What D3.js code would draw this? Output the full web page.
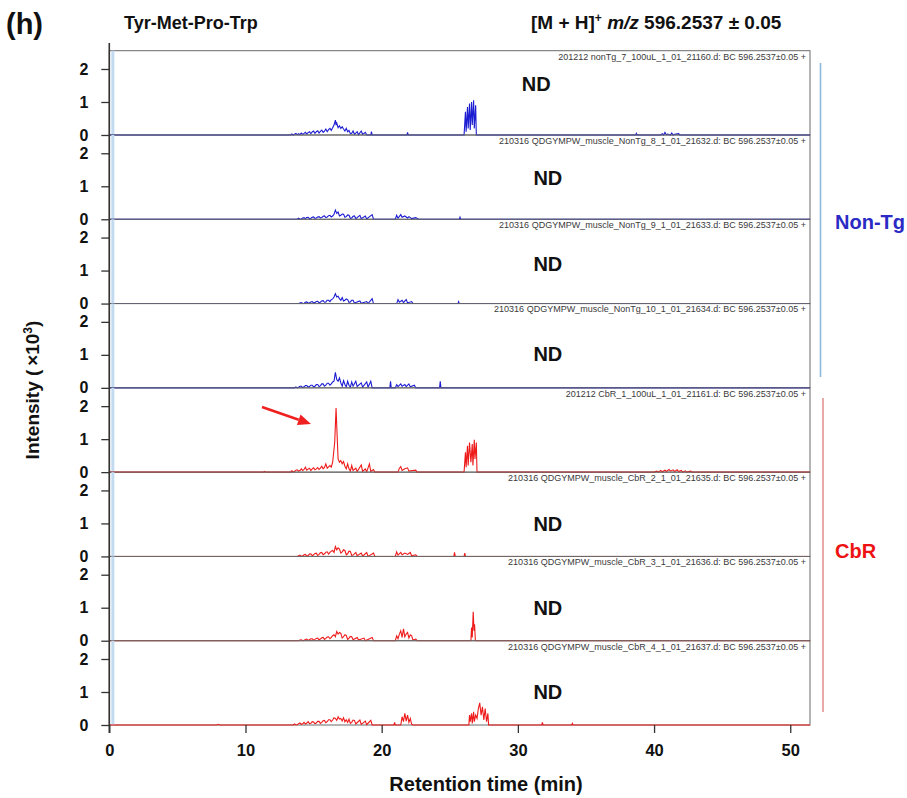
<!DOCTYPE html>
<html><head><meta charset="utf-8">
<script src="https://cdn.jsdelivr.net/npm/d3@7"></script>
<style>
body{margin:0;background:#fff}
svg{display:block}
text{font-family:"Liberation Sans",Arial,Helvetica,sans-serif}
</style>
</head><body>
<svg id="chart" width="907" height="798"></svg>
<script>
// ---- data ----
const timeTicks = [0, 10, 20, 30, 40, 50];
const intensityTicks = [0, 1, 2];
const sampleNames = [
  "201212 nonTg_7_100uL_1_01_21160.d: BC 596.2537\u00b10.05 +",
  "210316 QDGYMPW_muscle_NonTg_8_1_01_21632.d: BC 596.2537\u00b10.05 +",
  "210316 QDGYMPW_muscle_NonTg_9_1_01_21633.d: BC 596.2537\u00b10.05 +",
  "210316 QDGYMPW_muscle_NonTg_10_1_01_21634.d: BC 596.2537\u00b10.05 +",
  "201212 CbR_1_100uL_1_01_21161.d: BC 596.2537\u00b10.05 +",
  "210316 QDGYMPW_muscle_CbR_2_1_01_21635.d: BC 596.2537\u00b10.05 +",
  "210316 QDGYMPW_muscle_CbR_3_1_01_21636.d: BC 596.2537\u00b10.05 +",
  "210316 QDGYMPW_muscle_CbR_4_1_01_21637.d: BC 596.2537\u00b10.05 +"
];
const sampleGroups = ["Non-Tg", "Non-Tg", "Non-Tg", "Non-Tg", "CbR", "CbR", "CbR", "CbR"];
const notDetected = [true, true, true, true, false, true, true, true];

// extracted ion chromatograms: [retention time (min), intensity (x10^3)]
const traceNonTg7 = [[0,0],[13.3,0],[13.4,0.03],[13.5,0],[13.7,0.05],[13.8,0.01],[13.9,0.04],[14.0,0.01],[14.1,0.06],[14.2,0.02],[14.3,0.05],[14.4,0.08],[14.5,0.03],[14.6,0.07],[14.7,0.1],[14.8,0.04],[14.9,0.09],[15.0,0.12],[15.1,0.05],[15.2,0.1],[15.3,0.13],[15.4,0.06],[15.5,0.11],[15.6,0.15],[15.7,0.08],[15.8,0.12],[15.9,0.18],[16.0,0.1],[16.1,0.16],[16.2,0.2],[16.3,0.14],[16.4,0.22],[16.5,0.3],[16.6,0.45],[16.65,0.3],[16.7,0.36],[16.8,0.22],[16.9,0.28],[17.0,0.2],[17.1,0.25],[17.2,0.18],[17.3,0.12],[17.4,0.2],[17.5,0.1],[17.6,0.14],[17.7,0.04],[17.8,0.05],[17.9,0.12],[18.0,0.02],[18.2,0.1],[18.3,0.01],[18.5,0.12],[18.6,0.02],[18.8,0.08],[18.9,0],[19.2,0],[19.25,0.1],[19.3,0],[21.85,0],[21.9,0.08],[21.95,0],[26.05,0],[26.15,0.7],[26.2,0.1],[26.3,0.85],[26.35,0.2],[26.45,0.95],[26.5,0.15],[26.6,1.0],[26.65,0.3],[26.75,1.05],[26.8,0.2],[26.9,0.9],[26.95,0],[38.65,0],[38.7,0.05],[38.75,0],[40.5,0],[40.6,0.04],[40.7,0],[40.8,0.08],[40.9,0.01],[41.0,0.03],[41.2,0],[41.3,0.06],[41.4,0],[41.5,0.02],[41.8,0.04],[41.9,0],[51.45,0]];
const traceNonTg8 = [[0,0],[13.8,0],[13.9,0.03],[14.0,0],[14.1,0.01],[14.2,0.04],[14.3,0.05],[14.4,0.02],[14.5,0.05],[14.6,0.06],[14.7,0.02],[14.8,0.03],[14.9,0.06],[15.0,0.07],[15.1,0.03],[15.2,0.04],[15.3,0.07],[15.4,0.08],[15.5,0.04],[15.6,0.05],[15.7,0.09],[15.8,0.1],[15.9,0.05],[16.0,0.07],[16.1,0.11],[16.2,0.12],[16.3,0.07],[16.4,0.1],[16.5,0.15],[16.6,0.28],[16.7,0.18],[16.8,0.22],[16.9,0.1],[17.0,0.12],[17.1,0.16],[17.2,0.15],[17.3,0.06],[17.4,0.08],[17.5,0.13],[17.6,0.12],[17.7,0.03],[17.8,0.04],[17.9,0.09],[18.0,0.1],[18.1,0.02],[18.4,0.12],[18.5,0.02],[18.8,0.1],[18.9,0.01],[19.3,0.14],[19.4,0],[21.0,0],[21.1,0.12],[21.2,0.03],[21.4,0.14],[21.5,0.06],[21.7,0.1],[21.9,0.04],[22.0,0.08],[22.2,0.02],[22.5,0.05],[22.7,0],[25.7,0],[25.75,0.06],[25.8,0],[51.45,0]];
const traceNonTg9 = [[0,0],[13.9,0],[14.0,0.02],[14.1,0.03],[14.2,0],[14.3,0.01],[14.4,0.04],[14.5,0.05],[14.6,0.01],[14.7,0.02],[14.8,0.05],[14.9,0.06],[15.0,0.02],[15.1,0.03],[15.2,0.06],[15.3,0.07],[15.4,0.03],[15.5,0.04],[15.6,0.08],[15.7,0.09],[15.8,0.04],[15.9,0.05],[16.0,0.1],[16.1,0.1],[16.2,0.06],[16.3,0.12],[16.4,0.14],[16.5,0.2],[16.6,0.3],[16.7,0.2],[16.8,0.22],[16.9,0.15],[17.0,0.1],[17.1,0.18],[17.2,0.08],[17.3,0.1],[17.4,0.14],[17.5,0.12],[17.6,0.04],[17.7,0.05],[17.8,0.1],[17.9,0.1],[18.0,0.01],[18.1,0.03],[18.4,0.08],[18.5,0.01],[18.9,0.06],[19.0,0],[19.3,0.15],[19.4,0],[21.1,0],[21.2,0.12],[21.3,0.04],[21.5,0.1],[21.6,0.03],[21.8,0.12],[21.9,0.02],[22.2,0.06],[22.3,0],[25.6,0],[25.65,0.06],[25.7,0],[51.45,0]];
const traceNonTg10 = [[0,0],[13.6,0],[13.7,0.03],[13.8,0],[13.9,0.02],[14.0,0.05],[14.1,0.05],[14.2,0.01],[14.3,0.03],[14.4,0.07],[14.5,0.07],[14.6,0.02],[14.7,0.04],[14.8,0.08],[14.9,0.08],[15.0,0.03],[15.1,0.05],[15.2,0.1],[15.3,0.1],[15.4,0.04],[15.5,0.06],[15.6,0.12],[15.7,0.12],[15.8,0.05],[15.9,0.08],[16.0,0.14],[16.1,0.14],[16.2,0.08],[16.3,0.12],[16.4,0.18],[16.5,0.2],[16.6,0.47],[16.7,0.25],[16.8,0.2],[16.9,0.3],[17.0,0.15],[17.1,0.05],[17.2,0.22],[17.3,0.1],[17.4,0.03],[17.5,0.2],[17.6,0.08],[17.7,0.02],[17.8,0.18],[17.9,0.05],[18.1,0.2],[18.2,0.04],[18.5,0.15],[18.6,0.02],[18.9,0.18],[19.0,0.02],[19.2,0.2],[19.3,0],[20.6,0],[20.65,0.2],[20.7,0],[21.0,0],[21.1,0.1],[21.2,0.04],[21.4,0.12],[21.5,0.05],[21.7,0.1],[21.8,0.04],[22.0,0.12],[22.1,0.03],[22.4,0.08],[22.5,0],[24.25,0],[24.3,0.2],[24.35,0],[51.45,0]];
const traceCbR1 = [[0,0],[11.3,0],[11.4,0.02],[11.5,0],[13.3,0],[13.4,0.04],[13.5,0.01],[13.6,0.02],[13.7,0.06],[13.8,0.07],[13.9,0.03],[14.0,0.05],[14.1,0.1],[14.2,0.05],[14.3,0.08],[14.4,0.15],[14.5,0.06],[14.6,0.09],[14.7,0.12],[14.8,0.05],[14.9,0.1],[15.0,0.13],[15.1,0.07],[15.2,0.1],[15.3,0.14],[15.4,0.08],[15.5,0.12],[15.6,0.18],[15.7,0.1],[15.8,0.14],[15.9,0.25],[16.0,0.12],[16.1,0.16],[16.2,0.2],[16.3,0.15],[16.4,0.3],[16.55,0.9],[16.65,1.94],[16.72,1.2],[16.8,0.4],[16.9,0.3],[17.0,0.35],[17.1,0.25],[17.2,0.32],[17.3,0.18],[17.4,0.1],[17.5,0.25],[17.6,0.1],[17.7,0.03],[17.8,0.2],[17.9,0.05],[18.1,0.12],[18.2,0.02],[18.5,0.22],[18.6,0.02],[18.8,0.1],[18.9,0.01],[19.1,0.25],[19.2,0.02],[19.4,0.08],[19.5,0],[21.2,0],[21.3,0.12],[21.4,0.17],[21.5,0.05],[21.7,0.1],[21.9,0.13],[22.0,0.03],[22.5,0.06],[22.6,0],[26.05,0],[26.15,0.6],[26.2,0.15],[26.3,0.8],[26.35,0.2],[26.45,0.9],[26.55,0.3],[26.65,0.85],[26.7,0.2],[26.8,0.98],[26.85,0.4],[26.95,0.9],[27.0,0],[40.0,0],[40.2,0.03],[40.3,0],[40.5,0.05],[40.6,0.01],[40.8,0.06],[40.9,0.02],[41.1,0.08],[41.2,0.03],[41.4,0.07],[41.5,0.02],[41.7,0.07],[41.8,0.02],[42.0,0.05],[42.1,0],[42.3,0.04],[42.4,0],[42.7,0.03],[42.8,0],[51.45,0]];
const traceCbR2 = [[0,0],[13.8,0],[13.9,0.02],[14.0,0.04],[14.1,0],[14.2,0.02],[14.3,0.05],[14.4,0.06],[14.5,0.01],[14.6,0.03],[14.7,0.07],[14.8,0.08],[14.9,0.02],[15.0,0.05],[15.1,0.09],[15.2,0.1],[15.3,0.03],[15.4,0.06],[15.5,0.11],[15.6,0.12],[15.7,0.05],[15.8,0.08],[15.9,0.13],[16.0,0.14],[16.1,0.07],[16.2,0.12],[16.3,0.16],[16.4,0.18],[16.5,0.12],[16.6,0.3],[16.7,0.2],[16.8,0.26],[16.9,0.22],[17.0,0.1],[17.1,0.14],[17.2,0.2],[17.3,0.18],[17.4,0.05],[17.5,0.08],[17.6,0.16],[17.7,0.15],[17.8,0.03],[17.9,0.04],[18.1,0.12],[18.2,0.02],[18.5,0.1],[18.6,0.01],[18.9,0.12],[19.0,0],[19.4,0.1],[19.5,0],[21.0,0],[21.1,0.14],[21.2,0.04],[21.4,0.12],[21.5,0.05],[21.7,0.1],[21.9,0.06],[22.1,0.12],[22.2,0.02],[22.5,0.05],[22.6,0],[25.3,0],[25.35,0.12],[25.4,0],[26.05,0],[26.1,0.1],[26.15,0],[51.45,0]];
const traceCbR3 = [[0,0],[13.9,0],[14.0,0.02],[14.1,0.03],[14.2,0],[14.3,0.01],[14.4,0.04],[14.5,0.05],[14.6,0.01],[14.7,0.03],[14.8,0.06],[14.9,0.06],[15.0,0.02],[15.1,0.04],[15.2,0.07],[15.3,0.08],[15.4,0.03],[15.5,0.05],[15.6,0.09],[15.7,0.1],[15.8,0.04],[15.9,0.07],[16.0,0.11],[16.1,0.12],[16.2,0.06],[16.3,0.1],[16.4,0.15],[16.5,0.18],[16.6,0.12],[16.7,0.28],[16.8,0.2],[16.9,0.25],[17.0,0.22],[17.1,0.08],[17.2,0.12],[17.3,0.18],[17.4,0.16],[17.5,0.04],[17.6,0.08],[17.7,0.13],[17.8,0.12],[17.9,0.03],[18.2,0.1],[18.3,0.02],[18.7,0.08],[18.8,0],[19.3,0.1],[19.4,0],[21.0,0],[21.1,0.15],[21.2,0.06],[21.3,0.2],[21.4,0.3],[21.5,0.1],[21.6,0.36],[21.7,0.12],[21.8,0.2],[21.9,0.25],[22.0,0.08],[22.1,0.18],[22.2,0.15],[22.3,0.02],[22.5,0.05],[22.6,0],[26.55,0],[26.6,0.4],[26.65,0.1],[26.72,0.88],[26.78,0.3],[26.82,0.5],[26.88,0],[51.45,0]];
const traceCbR4 = [[0,0],[7.9,0],[8.0,0.02],[8.1,0],[13.5,0],[13.6,0.03],[13.7,0],[13.8,0.01],[13.9,0.04],[14.0,0.06],[14.1,0.02],[14.2,0.04],[14.3,0.08],[14.4,0.03],[14.5,0.06],[14.6,0.1],[14.7,0.04],[14.8,0.05],[14.9,0.1],[15.0,0.09],[15.1,0.04],[15.2,0.06],[15.3,0.11],[15.4,0.11],[15.5,0.05],[15.6,0.08],[15.7,0.13],[15.8,0.14],[15.9,0.07],[16.0,0.1],[16.1,0.16],[16.2,0.16],[16.3,0.1],[16.4,0.15],[16.5,0.22],[16.6,0.2],[16.7,0.14],[16.8,0.25],[16.9,0.18],[17.0,0.2],[17.1,0.12],[17.2,0.22],[17.3,0.1],[17.4,0.16],[17.5,0.08],[17.6,0.18],[17.7,0.05],[17.8,0.08],[17.9,0.15],[18.0,0.14],[18.1,0.03],[18.4,0.15],[18.5,0.02],[18.8,0.12],[18.9,0.01],[19.2,0.14],[19.3,0],[20.9,0],[20.95,0.08],[21.0,0],[21.4,0],[21.5,0.25],[21.6,0.1],[21.7,0.35],[21.8,0.12],[21.9,0.3],[22.0,0.08],[22.1,0.2],[22.2,0.02],[22.3,0],[26.4,0],[26.45,0.3],[26.5,0.1],[26.6,0.35],[26.65,0.05],[26.75,0.4],[26.8,0.1],[26.9,0.3],[27.0,0.2],[27.1,0.5],[27.2,0.67],[27.3,0.3],[27.4,0.55],[27.5,0.15],[27.6,0.5],[27.7,0.1],[27.8,0.35],[27.85,0],[31.75,0],[31.8,0.08],[31.85,0],[33.95,0],[34.0,0.05],[34.05,0],[51.45,0]];
const traces = [traceNonTg7, traceNonTg8, traceNonTg9, traceNonTg10, traceCbR1, traceCbR2, traceCbR3, traceCbR4];

// ---- layout ----
const svg = d3.select("#chart");
const plotLeft = 109.3, plotRight = 810, plotTop = 50.7, plotBottom = 725;
const nPanels = traces.length;
const panelH = (plotBottom - plotTop) / nPanels;
const pxPerUnit = 33;
const groupColor = {"Non-Tg": "#1c1cd2", "CbR": "#ee1a1a"};
const groupLabelColor = {"Non-Tg": "#2a2ac4", "CbR": "#ee1111"};
const bracketColor = {"Non-Tg": "#8db8dc", "CbR": "#e49494"};

const x = d3.scaleLinear().domain([0, 51.45]).range([plotLeft, plotRight]);
const yScale = i => {
  const bottom = plotTop + panelH * (i + 1);
  return d3.scaleLinear().domain([0, panelH / pxPerUnit]).range([bottom, bottom - panelH]);
};

// "ND" label placement (time, intensity) inside each panel
const ndTime = [31.35, 32.2, 32.2, 32.2, null, 32.2, 32.2, 32.2];
const ndLevel = [1.53, 1.25, 1.2, 1.03, null, 0.98, 1.0, 1.0];

const defs = svg.append("defs");

traces.forEach((trace, i) => {
  const y = yScale(i);
  const top = y.range()[1], bottom = y.range()[0];
  const g = svg.append("g").attr("class", "panel");

  defs.append("clipPath").attr("id", "clip" + i)
    .append("rect").attr("x", plotLeft).attr("y", top - 1)
    .attr("width", plotRight - plotLeft).attr("height", bottom - top + 2);

  // frame
  g.append("rect").attr("x", plotLeft).attr("y", top)
    .attr("width", plotRight - plotLeft).attr("height", bottom - top)
    .attr("fill", "none").attr("stroke", "#6a6a6a").attr("stroke-width", 1);

  // injection marker near t = 0
  g.append("line").attr("x1", x(0.26)).attr("x2", x(0.26))
    .attr("y1", top).attr("y2", bottom)
    .attr("stroke", "#c2dbf0").attr("stroke-width", 3);

  // chromatogram trace
  const line = d3.line().x(d => x(d[0])).y(d => y(d[1]));
  g.append("path").datum(trace)
    .attr("clip-path", "url(#clip" + i + ")")
    .attr("d", line)
    .attr("fill", "none")
    .attr("stroke", groupColor[sampleGroups[i]])
    .attr("stroke-width", 1.1)
    .attr("stroke-linejoin", "miter");

  // run name
  g.append("text").attr("x", plotRight - 4).attr("y", top + 8.8)
    .attr("text-anchor", "end").attr("font-size", 9).attr("fill", "#3a3a3a")
    .text(sampleNames[i]);

  if (notDetected[i]) {
    g.append("text").attr("x", x(ndTime[i])).attr("y", y(ndLevel[i]))
      .attr("text-anchor", "middle").attr("dominant-baseline", "central")
      .attr("font-size", 20).attr("font-weight", "bold").attr("fill", "#111")
      .text("ND");
  }

  // intensity axis for this panel
  const ax = svg.append("g").attr("transform", `translate(${plotLeft},0)`)
    .call(d3.axisLeft(y).tickValues(intensityTicks).tickFormat(d3.format("d")).tickSize(8).tickPadding(13));
  ax.select(".domain").remove();
  ax.selectAll(".tick line").attr("stroke", "#333").attr("stroke-width", 1.3);
  ax.selectAll(".tick text").attr("font-size", 16).attr("font-weight", "bold")
    .attr("fill", "#111").style("font-family", "'Liberation Sans',Arial,sans-serif");
});

// main vertical axis line
svg.append("line").attr("x1", plotLeft).attr("x2", plotLeft)
  .attr("y1", 43).attr("y2", plotBottom + 8)
  .attr("stroke", "#333").attr("stroke-width", 1.6);

// time axis
const xa = svg.append("g").attr("transform", `translate(0,${plotBottom})`)
  .call(d3.axisBottom(x).tickValues(timeTicks).tickSize(8).tickPadding(11));
xa.select(".domain").remove();
xa.selectAll(".tick line").attr("stroke", "#333").attr("stroke-width", 1.3);
xa.selectAll(".tick text").attr("font-size", 16.5).attr("font-weight", "bold")
  .attr("fill", "#111").style("font-family", "'Liberation Sans',Arial,sans-serif");

// group brackets and labels
const groupSpans = [
  {name: "Non-Tg", y1: 63, y2: 377, bx: 820.5, ly: 222},
  {name: "CbR", y1: 398, y2: 712, bx: 823, ly: 551}
];
groupSpans.forEach(s => {
  svg.append("line").attr("x1", s.bx).attr("x2", s.bx).attr("y1", s.y1).attr("y2", s.y2)
    .attr("stroke", bracketColor[s.name]).attr("stroke-width", 1.6);
  svg.append("text").attr("x", 835).attr("y", s.ly).attr("dominant-baseline", "central")
    .attr("font-size", 20).attr("font-weight", "bold").attr("fill", groupLabelColor[s.name])
    .text(s.name);
});

// arrow pointing at the CbR peak
(function () {
  const x1 = 262, y1 = 407, x2 = 311, y2 = 424;
  const dx = x2 - x1, dy = y2 - y1, len = Math.hypot(dx, dy);
  const ux = dx / len, uy = dy / len, hl = 13, hw = 5.5;
  const bx = x2 - ux * hl, by = y2 - uy * hl;
  svg.append("line").attr("x1", x1).attr("y1", y1).attr("x2", bx).attr("y2", by)
    .attr("stroke", "#ee2020").attr("stroke-width", 2.6);
  svg.append("polygon")
    .attr("points", `${x2},${y2} ${bx - uy * hw},${by + ux * hw} ${bx + uy * hw},${by - ux * hw}`)
    .attr("fill", "#ee2020");
})();

// titles
svg.append("text").attr("x", 6).attr("y", 34).attr("font-size", 29).attr("font-weight", "bold")
  .attr("fill", "#111").text("(h)");
svg.append("text").attr("x", 124).attr("y", 29).attr("font-size", 18).attr("font-weight", "bold")
  .attr("fill", "#111").text("Tyr-Met-Pro-Trp");
const ion = svg.append("text").attr("x", 531).attr("y", 29).attr("font-size", 19)
  .attr("font-weight", "bold").attr("fill", "#111");
ion.append("tspan").text("[M + H]");
ion.append("tspan").attr("dy", -7).attr("font-size", 12).text("+");
ion.append("tspan").attr("dy", 7).text(" ");
ion.append("tspan").attr("font-style", "italic").text("m/z");
ion.append("tspan").text(" 596.2537 \u00b1 0.05");

// axis titles
const yt = svg.append("text").attr("transform", "translate(39,390) rotate(-90)")
  .attr("text-anchor", "middle").attr("font-size", 19).attr("font-weight", "bold").attr("fill", "#111");
yt.append("tspan").text("Intensity (\u2009\u00d710");
yt.append("tspan").attr("dy", -7).attr("font-size", 12).text("3");
yt.append("tspan").attr("dy", 7).text(")");

svg.append("text").attr("x", 486).attr("y", 791).attr("text-anchor", "middle")
  .attr("font-size", 20).attr("font-weight", "bold").attr("fill", "#111")
  .text("Retention time (min)");
</script>
</body></html>
